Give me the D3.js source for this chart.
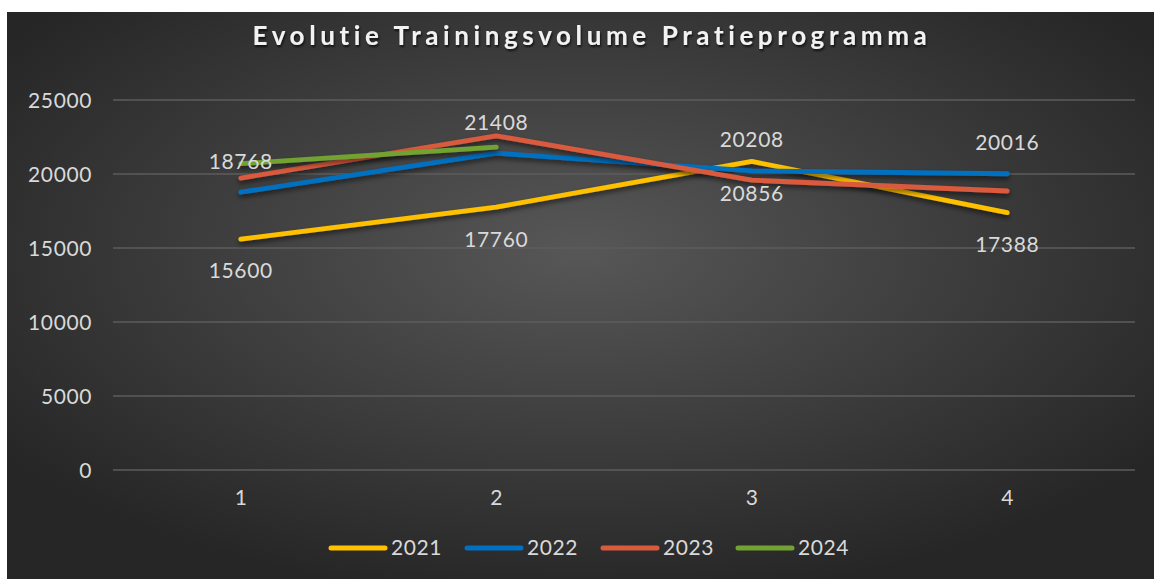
<!DOCTYPE html>
<html><head><meta charset="utf-8">
<script src="https://cdn.jsdelivr.net/npm/d3@7"></script>
<style>html,body{margin:0;padding:0;background:#fff;}svg{display:block;}</style>
</head><body>
<svg id="chart" width="1154" height="579"></svg>
<script>
const title = "Evolutie Trainingsvolume Pratieprogramma";
const categories = ["1", "2", "3", "4"];
const yTicks = [0, 5000, 10000, 15000, 20000, 25000];
const seriesNames = ["2021", "2022", "2023", "2024"];
const values2021 = [15600, 17760, 20856, 17388];
const values2022 = [18768, 21408, 20208, 20016];
const values2023 = [19720, 22580, 19580, 18850];
const values2024 = [20700, 21820];
const colors = ["#FFC000", "#0070C0", "#DA5A3E", "#71A232"];
const labelsAbove2022 = [18768, 21408, 20208, 20016];
const labelsBelow2021 = [15600, 17760, 20856, 17388];

const series = [values2021, values2022, values2023, values2024].map((v, i) => ({name: seriesNames[i], values: v, color: colors[i]}));

const svg = d3.select("#chart");
const W = 1154, H = 579;
const defs = svg.append("defs");
const grad = defs.append("radialGradient").attr("id", "bg").attr("cx", "50%").attr("cy", "42%").attr("r", "62%");
grad.append("stop").attr("offset", "0%").attr("stop-color", "#575757");
grad.append("stop").attr("offset", "100%").attr("stop-color", "#262626");
const sh = defs.append("filter").attr("id", "shadow").attr("x", "-10%").attr("y", "-50%").attr("width", "120%").attr("height", "200%");
sh.append("feDropShadow").attr("dx", 0).attr("dy", 3).attr("stdDeviation", 2.5).attr("flood-color", "#000").attr("flood-opacity", 0.55);
const tsh = defs.append("filter").attr("id", "tshadow");
tsh.append("feDropShadow").attr("dx", 1).attr("dy", 2).attr("stdDeviation", 1.2).attr("flood-color", "#000").attr("flood-opacity", 0.7);

svg.append("rect").attr("x", 7).attr("y", 12).attr("width", W - 7).attr("height", H - 12).attr("fill", "url(#bg)");

const x = d3.scaleBand().domain(categories).range([113, 1135]);
const y = d3.scaleLinear().domain([0, 25000]).range([470, 100]);
const font = "'Lato', 'Open Sans', sans-serif";
const fs = 21;

// gridlines
svg.append("g").selectAll("line").data(yTicks).join("line")
  .attr("x1", 113).attr("x2", 1135)
  .attr("y1", d => y(d)).attr("y2", d => y(d))
  .attr("stroke", "#5c5c5c").attr("stroke-width", 1.3);

// y axis
const yAxis = d3.axisLeft(y).tickValues(yTicks).tickSize(0).tickPadding(0).tickFormat(d3.format("d"));
const gy = svg.append("g").attr("transform", "translate(92,0)").call(yAxis);
gy.select(".domain").remove();
gy.selectAll("text").attr("fill", "#d9d9d9").attr("font-size", fs).attr("font-family", font).attr("letter-spacing", "0.6px").attr("dy", "0.35em");

// x axis
const xAxis = d3.axisBottom(x).tickSize(0).tickPadding(0);
const gx = svg.append("g").attr("transform", "translate(0,490)").call(xAxis);
gx.select(".domain").remove();
gx.selectAll("text").attr("fill", "#d9d9d9").attr("font-size", fs).attr("font-family", font).attr("dy", "0.71em");

// lines
const line = d3.line().x((d, i) => x(categories[i]) + x.bandwidth() / 2).y(d => y(d));
svg.append("g").selectAll("path").data(series).join("path")
  .attr("d", d => line(d.values))
  .attr("fill", "none").attr("stroke", d => d.color).attr("stroke-width", 4.8)
  .attr("stroke-linecap", "round").attr("stroke-linejoin", "round")
  .attr("filter", "url(#shadow)");

// data labels
const lbl = svg.append("g").attr("font-family", font).attr("font-size", fs).attr("letter-spacing", "0.6px").attr("fill", "#d9d9d9").attr("text-anchor", "middle");
lbl.selectAll("text.a").data(labelsAbove2022).join("text").attr("class", "a")
  .attr("x", (d, i) => x(categories[i]) + x.bandwidth() / 2)
  .attr("y", d => y(d) - 31).attr("dy", "0.35em").text(d => d);
lbl.selectAll("text.b").data(labelsBelow2021).join("text").attr("class", "b")
  .attr("x", (d, i) => x(categories[i]) + x.bandwidth() / 2)
  .attr("y", d => y(d) + 32).attr("dy", "0.35em").text(d => d);

// title
svg.append("text").attr("x", 592).attr("y", 36).attr("text-anchor", "middle").attr("dy", "0.35em")
  .attr("font-family", font).attr("font-weight", "bold").attr("font-size", 26)
  .attr("letter-spacing", "4.6px").attr("fill", "#f2f2f2").attr("filter", "url(#tshadow)").text(title);

// legend
const legX = [331, 467, 603, 738];
const leg = svg.append("g");
series.forEach((s, i) => {
  leg.append("line").attr("x1", legX[i]).attr("x2", legX[i] + 54).attr("y1", 548).attr("y2", 548)
    .attr("stroke", s.color).attr("stroke-width", 5).attr("stroke-linecap", "round");
  leg.append("text").attr("x", legX[i] + 60).attr("y", 548).attr("dy", "0.35em")
    .attr("font-family", font).attr("font-size", fs).attr("letter-spacing", "0.6px").attr("fill", "#d9d9d9").text(s.name);
});
</script>
</body></html>
